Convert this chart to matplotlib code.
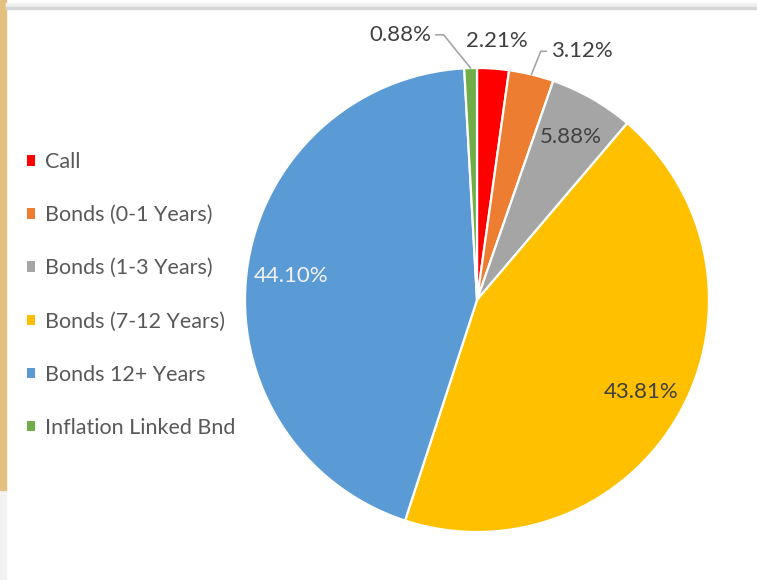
import numpy as np
import matplotlib
matplotlib.use("Agg")
import matplotlib.pyplot as plt
import matplotlib.patches as mpatches

plt.rcParams["font.family"] = ["Lato", "DejaVu Sans"]

# ---------------------------------------------------------------------------
# Data
# ---------------------------------------------------------------------------
categories = ["Call", "Bonds (0-1 Years)", "Bonds (1-3 Years)",
              "Bonds (7-12 Years)", "Bonds 12+ Years", "Inflation Linked Bnd"]
shares = [2.21, 3.12, 5.88, 43.81, 44.10, 0.88]
colors = ["#FF0000", "#ED7D31", "#A5A5A5", "#FFC000", "#5B9BD5", "#70AD47"]

# label placement: inside wedges for big slices, outside with leaders for small
inside = [False, False, True, True, True, False]
inside_color = [None, None, "#404040", "#404040", "#F2F2F2", None]
# outside label position (data units) and leader angle at the wedge end
outside_pos = {0: (0.085, 1.117), 1: (0.450, 1.072), 5: (-0.330, 1.143)}
leader_angle = {1: 68, 5: 129}

W, H = 757, 580
fig = plt.figure(figsize=(W / 100, H / 100), dpi=100)

# window chrome around the screenshot
fig.add_artist(mpatches.Rectangle((0, 0), 6 / W, 1, transform=fig.transFigure,
                                  color="#F2F2F2", zorder=0))
fig.add_artist(mpatches.Rectangle((0, 1 - 490 / H), 6 / W, 490 / H,
                                  transform=fig.transFigure, color="#E3C07E", zorder=1))
fig.add_artist(mpatches.Rectangle((6 / W, 1 - 7 / H), 1, 4 / H,
                                  transform=fig.transFigure, color="#F0F0F0", zorder=1))
fig.add_artist(mpatches.Rectangle((6 / W, 1 - 9 / H), 1, 2 / H,
                                  transform=fig.transFigure, color="#D6D6D6", zorder=1))

cx, cy, r = 477, 300, 232
ax = fig.add_axes([(cx - r) / W, (H - cy - r) / H, 2 * r / W, 2 * r / H])
wedges, _ = ax.pie(shares, colors=colors, startangle=90, counterclock=False,
                   wedgeprops=dict(edgecolor="white", linewidth=1.6))
ax.set_xlim(-1, 1)
ax.set_ylim(-1, 1)
ax.set_aspect("equal")
ax.axis("off")

fs = 16
for i, w in enumerate(wedges):
    mid = np.deg2rad((w.theta1 + w.theta2) / 2)
    txt = f"{shares[i]:.2f}%"
    if inside[i]:
        ax.text(0.81 * np.cos(mid), 0.81 * np.sin(mid), txt, ha="center",
                va="center", fontsize=fs, color=inside_color[i])
    else:
        tx, ty = outside_pos[i]
        if i in leader_angle:
            ax.annotate(txt, xy=(np.cos(mid), np.sin(mid)), xytext=(tx, ty),
                        ha="center", va="center", fontsize=fs, color="#404040",
                        annotation_clip=False,
                        arrowprops=dict(arrowstyle="-", color="#A6A6A6", lw=1.2,
                                        shrinkA=1, shrinkB=0,
                                        connectionstyle=f"angle,angleA=0,angleB={leader_angle[i]},rad=0"))
        else:
            ax.text(tx, ty, txt, ha="center", va="center", fontsize=fs,
                    color="#404040")

handles = [mpatches.Patch(facecolor=c, edgecolor="none") for c in colors]
fig.legend(handles, categories, loc="upper left",
           bbox_to_anchor=(27 / W, 1 - 152 / H), frameon=False,
           fontsize=15.5, labelcolor="#595959", handlelength=0.37,
           handleheight=0.37, handletextpad=0.47, labelspacing=1.54,
           borderpad=0, borderaxespad=0)

fig.savefig("out.png", dpi=100)
